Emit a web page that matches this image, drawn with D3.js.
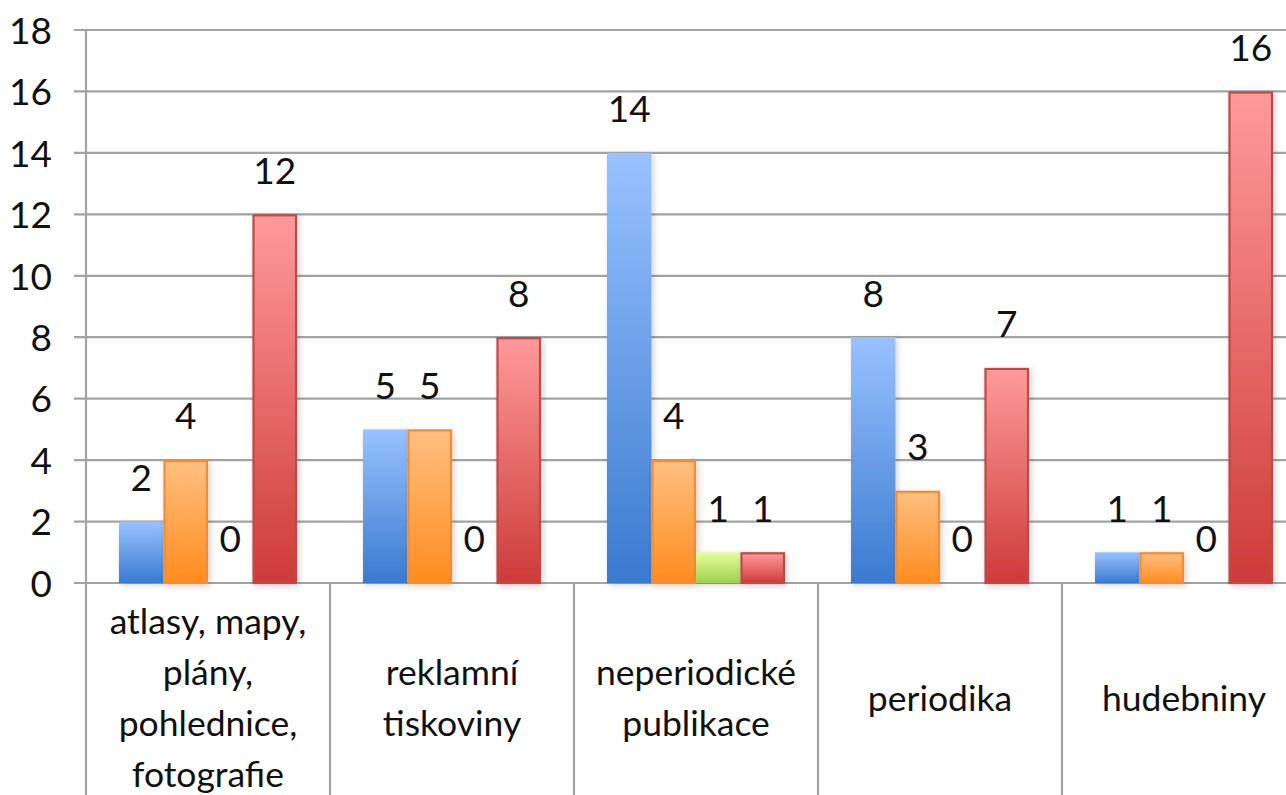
<!DOCTYPE html>
<html>
<head>
<meta charset="utf-8">
<script src="https://cdn.jsdelivr.net/npm/d3@7"></script>
<style>
  body { margin: 0; background: #fff; }
  svg text { font-family: Lato, "Noto Sans", sans-serif; fill: #111; }
</style>
</head>
<body>
<div id="chart"></div>
<script>
var categories = ["atlasy, mapy, plány, pohlednice, fotografie", "reklamní tiskoviny", "neperiodické publikace", "periodika", "hudebniny"];
// category labels as they are wrapped in the picture
var categoryLines = [
    ["atlasy, mapy,", "plány,", "pohlednice,", "fotografie"],
    ["reklamní", "tiskoviny"],
    ["neperiodické", "publikace"],
    ["periodika"],
    ["hudebniny"]
];
var seriesNames = ["s1", "s2", "s3", "s4"];
var blueValues = [2, 5, 14, 8, 1];
var orangeValues = [4, 5, 4, 3, 1];
var greenValues = [0, 0, 1, 0, 0];
var redValues = [12, 8, 1, 7, 16];
var yTicks = [0, 2, 4, 6, 8, 10, 12, 14, 16, 18];

var width = 1286;
var height = 795;
var plotLeft = 86, plotTop = 30, plotBottom = 583;
var band = 244;

var series = [blueValues, orangeValues, greenValues, redValues];

// top colour, bottom colour, outline
var palette = [
    ["#98c2ff", "#3a7acf", null],
    ["#ffbf80", "#ff8c1f", "#f68c32"],
    ["#e4ff9e", "#a2cf4e", null],
    ["#ff9a9a", "#cd3b39", "#bf4a48"]
];

var svg = d3.select('#chart')
    .append('svg')
    .attr('width', width)
    .attr('height', height);

var defs = svg.append('defs');
palette.forEach(function (p, i) {
    var g = defs.append('linearGradient')
        .attr('id', 'grad' + i)
        .attr('x1', 0).attr('y1', 0).attr('x2', 0).attr('y2', 1);
    g.append('stop').attr('offset', '0%').attr('stop-color', p[0]);
    g.append('stop').attr('offset', '100%').attr('stop-color', p[1]);
});
var shadow = defs.append('filter').attr('id', 'shadow')
    .attr('x', '-30%').attr('y', '-10%').attr('width', '160%').attr('height', '130%');
shadow.append('feDropShadow')
    .attr('dx', 2).attr('dy', 2).attr('stdDeviation', 3)
    .attr('flood-color', '#000').attr('flood-opacity', 0.18);

var x0 = d3.scaleBand()
    .domain(categories)
    .range([plotLeft, plotLeft + band * categories.length])
    .paddingInner(0).paddingOuter(0);

var x1 = d3.scaleBand()
    .domain(seriesNames)
    .range([33, 33 + 4 * 44.5]);

var y = d3.scaleLinear()
    .domain([0, 18])
    .range([plotBottom, plotTop]);

// gridlines
svg.append('g')
    .selectAll('line')
    .data(yTicks)
    .enter()
    .append('line')
    .attr('x1', 74)
    .attr('x2', width)
    .attr('y1', function (d) { return y(d); })
    .attr('y2', function (d) { return y(d); })
    .attr('stroke', '#a3a3a3')
    .attr('stroke-width', 2.2);

// y axis labels
var yAxis = svg.append('g')
    .attr('transform', 'translate(' + plotLeft + ',0)')
    .call(d3.axisLeft(y).tickValues(yTicks).tickSize(0).tickPadding(34));
yAxis.select('.domain').remove();
yAxis.selectAll('text')
    .attr('font-size', 37)
    .attr('font-family', 'Lato, sans-serif')
    .attr('fill', '#111')
    .attr('dy', '0.36em');

// vertical axis line and category separators
var seps = d3.range(categories.length).map(function (i) { return x0(categories[i]); });
svg.append('line')
    .attr('x1', plotLeft).attr('x2', plotLeft)
    .attr('y1', plotTop).attr('y2', height)
    .attr('stroke', '#a3a3a3').attr('stroke-width', 2.2);
svg.append('g')
    .selectAll('line')
    .data(seps.slice(1))
    .enter()
    .append('line')
    .attr('x1', function (d) { return d; })
    .attr('x2', function (d) { return d; })
    .attr('y1', plotBottom)
    .attr('y2', height)
    .attr('stroke', '#a3a3a3')
    .attr('stroke-width', 2.2);

// bars
var groups = svg.append('g')
    .selectAll('g')
    .data(categories)
    .enter()
    .append('g')
    .attr('transform', function (d) { return 'translate(' + x0(d) + ',0)'; });

groups.each(function (cat, ci) {
    var g = d3.select(this);
    series.forEach(function (vals, si) {
        var v = vals[ci];
        var bx = x1(seriesNames[si]);
        var bw = x1.bandwidth();
        if (v > 0) {
            var r = g.append('rect')
                .attr('x', bx)
                .attr('y', y(v))
                .attr('width', bw)
                .attr('height', y(0) - y(v))
                .attr('fill', 'url(#grad' + si + ')')
                .attr('filter', 'url(#shadow)');
            if (palette[si][2]) {
                r.attr('x', bx + 1).attr('width', bw - 2)
                    .attr('y', y(v) + 1).attr('height', y(0) - y(v) - 1)
                    .attr('stroke', palette[si][2])
                    .attr('stroke-width', 2.2);
            }
        }
        g.append('text')
            .attr('x', bx + bw / 2)
            .attr('y', y(v) - 44)
            .attr('dy', '0.36em')
            .attr('text-anchor', 'middle')
            .attr('font-size', 37)
            .text(v);
    });
});

// category labels
groups.each(function (cat, ci) {
    var lines = categoryLines[ci];
    var lh = 51;
    var cy = 698 - (lines.length - 1) * lh / 2;
    d3.select(this).append('text')
        .attr('text-anchor', 'middle')
        .attr('font-size', 35.5)
        .selectAll('tspan')
        .data(lines)
        .enter()
        .append('tspan')
        .attr('x', band / 2)
        .attr('y', function (d, i) { return cy + i * lh; })
        .attr('dy', '0.36em')
        .text(function (d) { return d; });
});
</script>
</body>
</html>
